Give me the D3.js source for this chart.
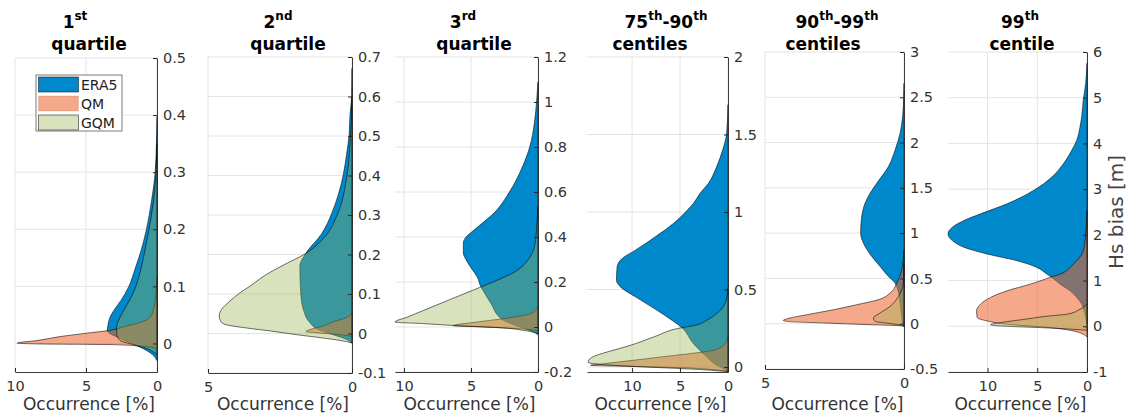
<!DOCTYPE html>
<html>
<head>
<meta charset="utf-8">
<script src="https://cdn.jsdelivr.net/npm/d3@7"></script>
<style>
  body { margin: 0; background: #fff; }
  svg text { font-family: "DejaVu Sans", sans-serif; }
</style>
</head>
<body>
<svg id="chart" width="1129" height="418"></svg>
<script>
// series names (legend order = drawing order)
var seriesNames = ['ERA5', 'QM', 'GQM'];

// panel titles: first line as [text, superscript] pairs, second line plain
var titleTop = [
  [['1', 'st']],
  [['2', 'nd']],
  [['3', 'rd']],
  [['75', 'th'], ['-90', 'th']],
  [['90', 'th'], ['-99', 'th']],
  [['99', 'th']]
];
var titleBottom = ['quartile', 'quartile', 'quartile', 'centiles', 'centiles', 'centile'];

// tick values
var yTicks = [
  [0, 0.1, 0.2, 0.3, 0.4, 0.5],
  [-0.1, 0, 0.1, 0.2, 0.3, 0.4, 0.5, 0.6, 0.7],
  [-0.2, 0, 0.2, 0.4, 0.6, 0.8, 1, 1.2],
  [0, 0.5, 1, 1.5, 2],
  [-0.5, 0, 0.5, 1, 1.5, 2, 2.5, 3],
  [-1, 0, 1, 2, 3, 4, 5, 6]
];
var xTicks = [[10, 5, 0], [5, 0], [10, 5, 0], [10, 5, 0], [5, 0], [10, 5, 0]];

// densities: [Hs bias (m), occurrence (%)]
var era5_q1 = [[-0.03,0],[-0.02,0.3],[-0.01,0.9],[0,1.8],[0.011,2.8],[0.022,3.5],[0.029,3.47],[0.046,3.31],[0.061,2.96],[0.075,2.55],[0.099,2.0],[0.134,1.5],[0.163,1.12],[0.198,0.76],[0.251,0.38],[0.303,0.12],[0.397,0]];
var qm_q1 = [[-0.009,0],[-0.006,0.49],[-0.004,1.43],[-0.002,3.31],[-0.001,8.0],[0.0006,9.84],[0.005,8.47],[0.012,6.83],[0.018,4.95],[0.023,3.31],[0.029,2.37],[0.035,1.43],[0.043,0.61],[0.058,0.26],[0.087,0.07],[0.116,0]];
var gqm_q1 = [[-0.019,0],[-0.017,0.14],[-0.009,0.73],[-0.002,1.67],[0.005,2.6],[0.017,2.84],[0.029,2.84],[0.046,2.6],[0.064,2.2],[0.087,1.7],[0.122,1.22],[0.157,0.9],[0.198,0.58],[0.251,0.24],[0.35,0]];

var era5_q2 = [[-0.024,0],[-0.015,0.19],[-0.003,0.65],[0.012,1.23],[0.027,1.46],[0.061,1.69],[0.103,1.78],[0.171,1.81],[0.203,1.6],[0.253,1.05],[0.303,0.71],[0.353,0.47],[0.403,0.3],[0.453,0.19],[0.503,0.1],[0.553,0.07],[0.603,0.01],[0.671,0]];
var qm_q2 = [[-0.007,0],[-0.003,0.42],[0.001,1.1],[0.005,1.6],[0.01,1.46],[0.019,1.0],[0.03,0.65],[0.04,0.19],[0.053,0]];
var gqm_q2 = [[-0.024,0],[-0.019,0.3],[-0.011,1.05],[-0.003,1.92],[0.006,2.79],[0.014,3.66],[0.023,4.41],[0.031,4.56],[0.044,4.61],[0.061,4.53],[0.082,4.24],[0.103,3.89],[0.12,3.54],[0.15,2.96],[0.171,2.44],[0.203,1.6],[0.247,0.92],[0.303,0.5],[0.403,0.17],[0.503,0.05],[0.595,0]];

var era5_q3 = [[-0.033,0],[-0.022,0.35],[0,1.34],[0.03,2.59],[0.049,2.96],[0.099,3.46],[0.148,3.96],[0.181,4.28],[0.222,4.53],[0.259,4.95],[0.299,5.37],[0.329,5.57],[0.373,5.57],[0.403,5.32],[0.422,4.95],[0.453,4.33],[0.504,3.33],[0.604,2.09],[0.704,1.22],[0.804,0.6],[0.907,0.27],[1.007,0.1],[1.089,0]];
var qm_q3 = [[-0.015,0],[-0.007,1.59],[0,4.08],[0.006,6.32],[0.022,4.58],[0.037,2.59],[0.059,0.6],[0.089,0]];
var gqm_q3 = [[-0.03,0],[-0.027,0.1],[-0.015,1.09],[-0.003,2.84],[0.006,6.07],[0.015,8.56],[0.022,10.67],[0.044,9.75],[0.074,8.53],[0.119,6.69],[0.163,4.88],[0.175,4.38],[0.207,3.08],[0.237,1.97],[0.267,1.22],[0.311,0.6],[0.37,0.22],[0.444,0.1],[0.533,0]];

var era5_p7590 = [[-0.032,0],[-0.022,0.14],[0.011,1.18],[0.065,2.21],[0.151,3.6],[0.254,4.81],[0.302,5.85],[0.366,7.4],[0.453,9.65],[0.517,11.21],[0.56,11.63],[0.647,11.56],[0.70,11.04],[0.754,9.65],[0.84,7.58],[0.927,5.67],[0.998,4.46],[1.056,3.6],[1.121,2.91],[1.185,2.04],[1.293,1.18],[1.401,0.55],[1.509,0.14],[1.692,0]];
var qm_p7590 = [[-0.026,0],[-0.017,1.52],[-0.004,4.98],[0.004,10.17],[0.011,14.33],[0.022,12.87],[0.043,9.93],[0.065,6.99],[0.086,4.05],[0.108,1.52],[0.151,0.31],[0.194,0]];
var gqm_p7590 = [[-0.03,0],[-0.015,3.25],[0,8.44],[0.017,13.3],[0.032,14.6],[0.069,13.98],[0.097,12.6],[0.14,10.17],[0.194,7.75],[0.252,4.98],[0.269,3.43],[0.302,2.21],[0.345,1.18],[0.409,0.31],[0.506,0]];

var era5_p9099 = [[-0.03,0],[0,0.05],[0.081,0.08],[0.228,0.14],[0.393,0.24],[0.449,0.32],[0.522,0.56],[0.632,0.86],[0.743,1.16],[0.89,1.46],[1.0,1.56],[1.184,1.52],[1.331,1.4],[1.441,1.22],[1.551,0.98],[1.735,0.56],[1.919,0.32],[2.103,0.14],[2.287,0.05],[2.507,0.01],[2.654,0]];
var qm_p9099 = [[-0.029,0],[-0.022,0.14],[-0.011,1.22],[0.007,2.78],[0.026,4.22],[0.037,4.34],[0.063,4.1],[0.099,3.5],[0.154,2.54],[0.21,1.7],[0.265,0.92],[0.338,0.5],[0.449,0.26],[0.596,0.08],[0.816,0]];
var gqm_p9099 = [[-0.029,0],[-0.015,0.14],[0.007,0.62],[0.026,1.04],[0.063,1.1],[0.118,0.86],[0.191,0.5],[0.301,0.2],[0.449,0.02],[0.669,0]];

var era5_p99 = [[0.044,0],[0.264,0.2],[0.483,0.53],[0.63,1.03],[0.776,1.7],[0.922,2.7],[1.069,3.53],[1.142,4.03],[1.288,5.03],[1.435,7.03],[1.581,10.03],[1.728,12.37],[1.874,13.53],[2.02,13.97],[2.167,13.53],[2.313,12.37],[2.46,10.7],[2.679,8.03],[2.972,5.37],[3.265,3.53],[3.558,2.37],[3.851,1.53],[4.07,1.03],[4.363,0.7],[4.583,0.53],[4.949,0.37],[5.315,0.13],[5.754,0]];
var qm_p99 = [[-0.23,0],[-0.176,0.37],[-0.102,1.37],[-0.029,3.7],[0.044,8.03],[0.117,10.03],[0.19,11.03],[0.337,11.1],[0.483,10.7],[0.63,9.7],[0.776,8.03],[0.922,5.7],[1.069,3.7],[1.142,2.7],[1.362,1.37],[1.654,0.37],[2.02,0.13],[2.533,0]];
var gqm_p99 = [[-0.088,0],[-0.066,1.37],[-0.029,4.7],[0,8.03],[0.035,9.7],[0.08,8.7],[0.15,6.37],[0.22,4.03],[0.264,2.03],[0.373,0.7],[0.483,0]];

var panelSeries = [
  [era5_q1, qm_q1, gqm_q1],
  [era5_q2, qm_q2, gqm_q2],
  [era5_q3, qm_q3, gqm_q3],
  [era5_p7590, qm_p7590, gqm_p7590],
  [era5_p9099, qm_p9099, gqm_p9099],
  [era5_p99, qm_p99, gqm_p99]
];

// layout: plot box in pixels and axis limits
var frames = [
  {l: 15,  r: 157,  t: 58, b: 372, xmax: 10,    y: [-0.05, 0.5]},
  {l: 208, r: 352,  t: 57, b: 373, xmax: 5,     y: [-0.1, 0.7]},
  {l: 395, r: 538,  t: 57, b: 372, xmax: 10.67, y: [-0.2, 1.2]},
  {l: 587, r: 728,  t: 57, b: 372, xmax: 14.7,  y: [-0.032, 2]},
  {l: 765, r: 904,  t: 52, b: 369, xmax: 5,     y: [-0.5, 3]},
  {l: 948, r: 1087, t: 52, b: 372, xmax: 13.97, y: [-1, 6]}
];
var titleX1 = [75, 278, 463, 666, 837, 1020];
var titleX2 = [89, 288, 474, 650, 823, 1022];

// fill colour + alpha, as the transparent patches
var fills = [
  {c: 'rgb(0,136,204)', a: 1},
  {c: 'rgb(237,99,42)', a: 0.55},
  {c: 'rgb(153,179,79)', a: 0.38}
];

var svg = d3.select('#chart');
var fmt = function(d) { return String(+d.toFixed(2)); };

frames.forEach(function(f, i) {
  var x = d3.scaleLinear().domain([f.xmax, 0]).range([f.l, f.r]);
  var y = d3.scaleLinear().domain(f.y).range([f.b, f.t]);
  var g = svg.append('g');

  // grid
  g.selectAll('.hg').data(yTicks[i]).enter().append('line')
    .attr('x1', f.l).attr('x2', f.r)
    .attr('y1', function(d) { return y(d); }).attr('y2', function(d) { return y(d); })
    .attr('stroke', '#e4e4e4').attr('stroke-width', 1);
  g.selectAll('.vg').data(xTicks[i]).enter().append('line')
    .attr('y1', f.t).attr('y2', f.b)
    .attr('x1', function(d) { return x(d); }).attr('x2', function(d) { return x(d); })
    .attr('stroke', '#e4e4e4').attr('stroke-width', 1);

  // densities
  var area = d3.area()
    .curve(d3.curveMonotoneY)
    .y(function(d) { return y(d[0]); })
    .x0(x(0))
    .x1(function(d) { return x(d[1]); });

  panelSeries[i].forEach(function(s, k) {
    g.append('path')
      .attr('d', area(s))
      .attr('fill', fills[k].c)
      .attr('fill-opacity', fills[k].a)
      .attr('stroke', '#000')
      .attr('stroke-opacity', 0.8)
      .attr('stroke-width', 0.7);
  });

  // axes
  var ya = g.append('g').attr('transform', 'translate(' + f.r + ',0)')
    .call(d3.axisRight(y).tickValues(yTicks[i]).tickFormat(fmt)
      .tickSizeInner(-4).tickSizeOuter(0).tickPadding(6));
  var xa = g.append('g').attr('transform', 'translate(0,' + f.b + ')')
    .call(d3.axisBottom(x).tickValues(xTicks[i]).tickFormat(fmt)
      .tickSizeInner(-4).tickSizeOuter(0).tickPadding(9));
  [ya, xa].forEach(function(a) {
    a.select('.domain').attr('stroke', '#262626').attr('stroke-width', 0.9);
    a.selectAll('.tick line').attr('stroke', '#262626');
    a.selectAll('.tick text').attr('fill', '#333').style('font-size', '14.5px')
      .style('font-family', '"DejaVu Sans", sans-serif');
  });

  g.append('text')
    .attr('x', (f.l + f.r) / 2 + 3).attr('y', 410)
    .attr('text-anchor', 'middle')
    .attr('fill', '#333').style('font-size', '17px')
    .text('Occurrence [%]');

  // title
  var t1 = g.append('text')
    .attr('x', titleX1[i]).attr('y', 28)
    .attr('text-anchor', 'middle')
    .style('font-weight', 'bold').style('font-size', '17px');
  titleTop[i].forEach(function(p, j) {
    t1.append('tspan').attr('dy', j === 0 ? 0 : 8).text(p[0]);
    t1.append('tspan').attr('dy', -8).style('font-size', '12px').text(p[1]);
  });
  g.append('text')
    .attr('x', titleX2[i]).attr('y', 50)
    .attr('text-anchor', 'middle')
    .style('font-weight', 'bold').style('font-size', '17px')
    .text(titleBottom[i]);
});

// legend in first panel
var lg = svg.append('g');
lg.append('rect').attr('x', 36).attr('y', 75).attr('width', 86).attr('height', 56)
  .attr('fill', '#fff').attr('stroke', '#7a7a7a').attr('stroke-width', 1);
seriesNames.forEach(function(n, k) {
  var yy = 77 + k * 19;
  lg.append('rect').attr('x', 38.5).attr('y', yy).attr('width', 40).attr('height', 15)
    .attr('fill', fills[k].c).attr('fill-opacity', fills[k].a)
    .attr('stroke', '#000').attr('stroke-opacity', k === 1 ? 0.15 : 0.7).attr('stroke-width', 0.7);
  lg.append('text').attr('x', 81).attr('y', yy + 13)
    .attr('fill', '#222').style('font-size', '14px').text(n);
});

svg.append('text')
  .attr('transform', 'translate(1123,212) rotate(-90)')
  .attr('text-anchor', 'middle')
  .attr('fill', '#444').style('font-size', '20px')
  .text('Hs bias [m]');
</script>
</body>
</html>
